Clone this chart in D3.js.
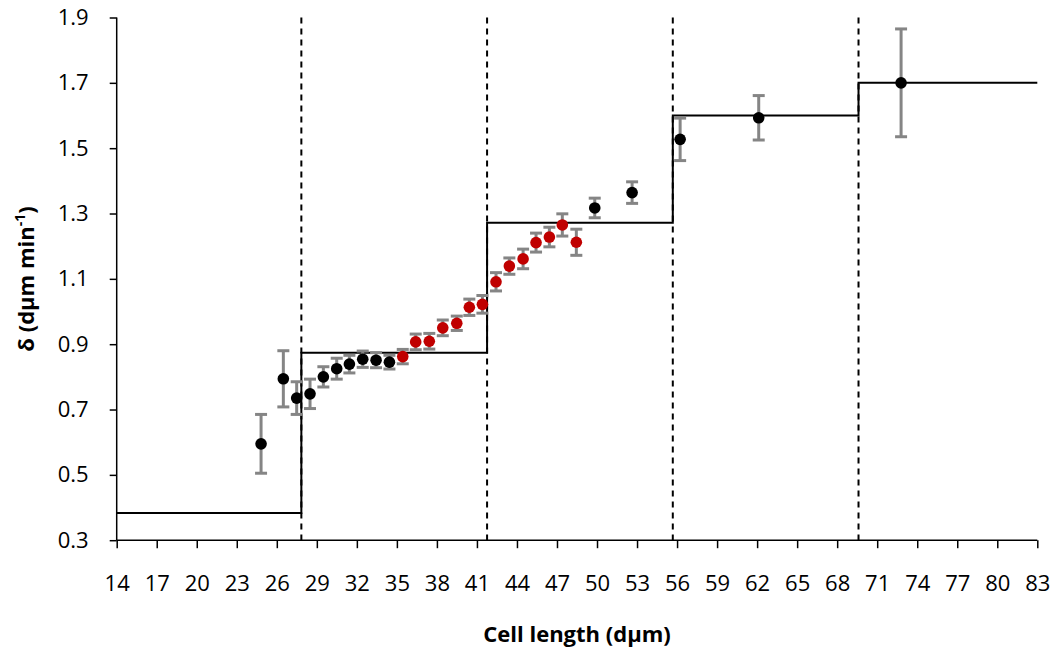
<!DOCTYPE html>
<html>
<head>
<meta charset="utf-8">
<script src="https://cdn.jsdelivr.net/npm/d3@7"></script>
<style>
  html, body { margin: 0; padding: 0; background: #fff; }
  svg { display: block; font-family: "Open Sans", Lato, sans-serif; }
</style>
</head>
<body>
<svg id="chart" width="1053" height="651"></svg>
<script>
// ---- data ----
const cellLength = [24.82, 26.49, 27.49, 28.49, 29.49, 30.49, 31.44, 32.44, 33.44, 34.44,
                    35.44, 36.41, 37.43, 38.44, 39.49, 40.43, 41.41, 42.43, 43.43, 44.46,
                    45.43, 46.43, 47.40, 48.45, 49.83, 52.63, 56.23, 62.12, 72.79];
const delta = [0.595, 0.794, 0.735, 0.748, 0.800, 0.825, 0.839, 0.854, 0.851, 0.845,
               0.862, 0.907, 0.909, 0.950, 0.964, 1.013, 1.022, 1.091, 1.139, 1.161,
               1.211, 1.228, 1.265, 1.212, 1.317, 1.364, 1.527, 1.593, 1.700];
const deltaErr = [0.090, 0.086, 0.050, 0.045, 0.031, 0.032, 0.027, 0.025, 0.023, 0.021,
                  0.022, 0.024, 0.024, 0.024, 0.022, 0.025, 0.027, 0.028, 0.025, 0.030,
                  0.029, 0.030, 0.034, 0.040, 0.030, 0.033, 0.065, 0.068, 0.165];
const pointGroup = ["b","b","b","b","b","b","b","b","b","b",
                    "r","r","r","r","r","r","r","r","r","r",
                    "r","r","r","r","b","b","b","b","b"];
const stepBreaks = [14, 27.84, 41.76, 55.68, 69.6, 83];
const stepLevels = [0.383, 0.874, 1.272, 1.600, 1.700];
const dividers = [27.84, 41.76, 55.68, 69.6];
const xTicks = d3.range(14, 84, 3);
const yTicks = [0.3, 0.5, 0.7, 0.9, 1.1, 1.3, 1.5, 1.7, 1.9];

(function () {
// ---- layout ----
const pLeft = 116.7, pRight = 1037.3, pTop = 17.5, pBottom = 540.2;
const svg = d3.select("#chart");
const x = d3.scaleLinear().domain([14, 83]).range([pLeft, pRight]);
const y = d3.scaleLinear().domain([0.3, 1.9]).range([pBottom, pTop]);
const groupColor = { b: "#000000", r: "#c00000" };
const FONT = "'Open Sans', Lato, sans-serif";

// axes
const xAxis = svg.append("g").attr("transform", `translate(0,${pBottom})`)
  .call(d3.axisBottom(x).tickValues(xTicks).tickSize(8).tickPadding(27).tickFormat(d3.format("d")));
xAxis.attr("font-family", FONT).attr("font-size", 22);
xAxis.select(".domain").attr("d", `M${pLeft},0H${pRight}`).attr("stroke", "#000").attr("stroke-width", 1.5);
xAxis.selectAll(".tick line").attr("stroke", "#000").attr("stroke-width", 1.5);
xAxis.selectAll(".tick text").attr("fill", "#000");

const yAxis = svg.append("g").attr("transform", `translate(${pLeft},0)`)
  .call(d3.axisLeft(y).tickValues(yTicks).tickSize(7).tickPadding(21).tickFormat(d3.format(".1f")));
yAxis.attr("font-family", FONT).attr("font-size", 22);
yAxis.select(".domain").attr("d", `M0,${pTop}V${pBottom}`).attr("stroke", "#000").attr("stroke-width", 1.5);
yAxis.selectAll(".tick line").attr("stroke", "#000").attr("stroke-width", 1.5);
yAxis.selectAll(".tick text").attr("fill", "#000");

// dashed dividers
svg.append("g").selectAll("line").data(dividers).join("line")
  .attr("x1", d => x(d)).attr("x2", d => x(d))
  .attr("y1", pTop).attr("y2", pBottom)
  .attr("stroke", "#000").attr("stroke-width", 2).attr("stroke-dasharray", "6,5");

// step line
const stepPts = stepLevels.map((v, i) => [stepBreaks[i], v]);
stepPts.push([stepBreaks[stepBreaks.length - 1], stepLevels[stepLevels.length - 1]]);
svg.append("path").datum(stepPts)
  .attr("d", d3.line().x(d => x(d[0])).y(d => y(d[1])).curve(d3.curveStepAfter))
  .attr("fill", "none").attr("stroke", "#000").attr("stroke-width", 2);

// error bars
const pts = cellLength.map((c, i) => ({ c, d: delta[i], e: deltaErr[i], g: pointGroup[i] }));
const eb = svg.append("g").attr("stroke", "#858585").attr("stroke-width", 3).attr("fill", "none");
eb.selectAll("line.v").data(pts).join("line").attr("class", "v")
  .attr("x1", p => x(p.c)).attr("x2", p => x(p.c))
  .attr("y1", p => y(p.d + p.e)).attr("y2", p => y(p.d - p.e));
eb.selectAll("line.t").data(pts).join("line").attr("class", "t")
  .attr("x1", p => x(p.c) - 6).attr("x2", p => x(p.c) + 6)
  .attr("y1", p => y(p.d + p.e)).attr("y2", p => y(p.d + p.e));
eb.selectAll("line.b").data(pts).join("line").attr("class", "b")
  .attr("x1", p => x(p.c) - 6).attr("x2", p => x(p.c) + 6)
  .attr("y1", p => y(p.d - p.e)).attr("y2", p => y(p.d - p.e));

// points
svg.append("g").selectAll("circle").data(pts).join("circle")
  .attr("cx", p => x(p.c)).attr("cy", p => y(p.d)).attr("r", 5.8)
  .attr("fill", p => groupColor[p.g]);

// axis titles
svg.append("text").attr("x", 577).attr("y", 642)
  .attr("text-anchor", "middle").attr("font-family", FONT)
  .attr("font-size", 22).attr("font-weight", "bold")
  .text("Cell length (dμm)");

const yl = svg.append("text")
  .attr("transform", `translate(34,279) rotate(-90)`)
  .attr("text-anchor", "middle").attr("font-family", FONT)
  .attr("font-size", 22).attr("font-weight", "bold");
yl.append("tspan").text("δ (dμm min");
yl.append("tspan").attr("font-size", 14).attr("dy", -9).text("-1");
yl.append("tspan").attr("dy", 9).text(")");
})();
</script>
</body>
</html>
